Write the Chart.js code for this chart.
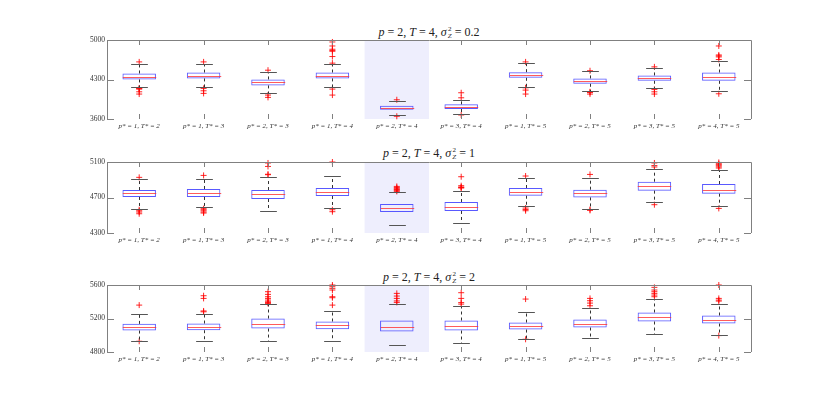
<!DOCTYPE html>
<html>
<head>
<meta charset="utf-8">
<script src="https://cdn.jsdelivr.net/npm/chart.js@4.4.1/dist/chart.umd.min.js"></script>
<style>
  body { margin: 0; background: #fff; width: 830px; height: 395px; position: relative; overflow: hidden; }
  canvas { position: absolute; left: 0; }
  .title { position: absolute; left: 279px; width: 300px; text-align: center; font-family: "Liberation Serif", serif; font-size: 12px; line-height: 14px; color: #222; }
  .ss { display: inline-flex; flex-direction: column; vertical-align: middle; font-size: 7px; line-height: 7px; margin-left: 1px; }
</style>
</head>
<body>
<div class="title" style="top:25px"><i>p</i> = 2, <i>T</i> = 4, <i>σ</i><span class="ss"><span>2</span><i>Z</i></span> = 0.2</div>
<canvas id="c1" width="830" height="135" style="top:0px"></canvas>
<div class="title" style="top:146px"><i>p</i> = 2, <i>T</i> = 4, <i>σ</i><span class="ss"><span>2</span><i>Z</i></span> = 1</div>
<canvas id="c2" width="830" height="109" style="top:140px"></canvas>
<div class="title" style="top:270px"><i>p</i> = 2, <i>T</i> = 4, <i>σ</i><span class="ss"><span>2</span><i>Z</i></span> = 2</div>
<canvas id="c3" width="830" height="108" style="top:260px"></canvas>
<script>
// categories (shared by all three panels)
const labels = ['p* = 1, T* = 2', 'p* = 1, T* = 3', 'p* = 2, T* = 3', 'p* = 1, T* = 4', 'p* = 2, T* = 4',
                'p* = 3, T* = 4', 'p* = 1, T* = 5', 'p* = 2, T* = 5', 'p* = 3, T* = 5', 'p* = 4, T* = 5'];
const shadedIndex = 4;

// panel 1: sigma_Z^2 = 0.2
const q1A  = [4301, 4319, 4195, 4319, 3765, 3777, 4330, 4224, 4277, 4277];
const q3A  = [4407, 4424, 4301, 4424, 3835, 3860, 4430, 4319, 4372, 4424];
const medA = [4347, 4365, 4248, 4365, 3800, 3818, 4377, 4266, 4319, 4342];
const loA  = [4160, 4160, 4065, 4160, 3671, 3694, 4171, 4094, 4142, 4094];
const hiA  = [4571, 4576, 4435, 4576, 3923, 3941, 4601, 4448, 4500, 4629];
const outA = [
  [4612, 4147, 4138, 4130, 4082, 4042],
  [4612, 4142, 4100, 4054],
  [4465, 4024, 3983],
  [4590, 4707, 4800, 4815, 4836, 4894, 4965, 4130, 4024],
  [3941, 3648],
  [3976, 4065, 3671],
  [4612, 4153, 4112, 4042],
  [4455, 4082, 4070, 4042],
  [4524, 4124, 4082, 4042],
  [4654, 4700, 4718, 4735, 4894, 4047]
];

// panel 2: sigma_Z^2 = 1
const q1B  = [4706, 4706, 4683, 4717, 4536, 4548, 4720, 4701, 4777, 4743];
const q3B  = [4784, 4796, 4784, 4807, 4627, 4649, 4807, 4788, 4878, 4852];
const medB = [4751, 4754, 4735, 4762, 4577, 4596, 4762, 4751, 4830, 4788];
const loB  = [4574, 4588, 4543, 4581, 4393, 4413, 4600, 4574, 4649, 4600];
const hiB  = [4908, 4908, 4927, 4938, 4762, 4777, 4923, 4915, 5017, 5005];
const outB = [
  [4927, 4562, 4550, 4536, 4517],
  [4949, 4574, 4562, 4550, 4536, 4525],
  [4957, 4962, 5050, 5089],
  [5100, 4562, 4540],
  [4769, 4780, 4790, 4800, 4812, 4825],
  [4807, 4812, 4818, 4833, 4934],
  [4942, 4581, 4565, 4551],
  [4960, 4555, 4565],
  [5044, 5060, 5089, 4619],
  [5032, 5045, 5058, 5070, 5081, 5095, 4577]
];

// panel 3: sigma_Z^2 = 2
const q1C  = [5056, 5060, 5080, 5072, 5044, 5056, 5068, 5092, 5164, 5140];
const q3C  = [5136, 5140, 5200, 5164, 5176, 5176, 5152, 5188, 5272, 5236];
const medC = [5096, 5104, 5140, 5120, 5104, 5116, 5112, 5140, 5212, 5184];
const loC  = [4932, 4936, 4936, 4936, 4888, 4912, 4952, 4964, 5020, 5008];
const hiC  = [5248, 5256, 5376, 5288, 5368, 5348, 5272, 5328, 5436, 5368];
const outC = [
  [5360, 4928],
  [5280, 5290, 5440, 5472],
  [5380, 5390, 5400, 5420, 5440, 5460, 5488, 5520],
  [5360, 5448, 5460, 5540, 5560, 5580, 5600],
  [5392, 5410, 5440, 5468, 5500],
  [5372, 5390, 5440, 5508],
  [5432, 4952],
  [5352, 5384, 5412, 5440],
  [5460, 5480, 5500, 5520, 5540, 5572],
  [5408, 5420, 5440, 5600, 4996]
];

const axisColor = '#808080';
const boxColor = 'rgba(60,60,255,0.85)';
const medColor = 'rgba(255,50,50,0.8)';

// draws shade, frame, ticks, whiskers, caps and medians with the chart's scales
const boxPlugin = {
  id: 'boxExtras',
  beforeDatasetsDraw(chart) {
    const { ctx, chartArea: a, scales: { x } } = chart;
    const w = x.getPixelForValue(1) - x.getPixelForValue(0);
    const cx = x.getPixelForValue(shadedIndex);
    ctx.save();
    ctx.fillStyle = '#eeeefd';
    ctx.fillRect(cx - w / 2, a.top, w, a.bottom - a.top);
    ctx.restore();
  },
  afterDatasetsDraw(chart) {
    const { ctx, chartArea: a, scales: { x, y } } = chart;
    const st = chart.options.plugins.boxExtras;
    const px = v => Math.round(v) + 0.5;
    ctx.save();
    ctx.lineWidth = 1;
    // frame: left, top, right
    ctx.strokeStyle = axisColor;
    ctx.beginPath();
    ctx.moveTo(px(a.left), a.bottom); ctx.lineTo(px(a.left), px(a.top));
    ctx.lineTo(px(a.right), px(a.top)); ctx.lineTo(px(a.right), a.bottom);
    ctx.stroke();
    // y ticks, inward on both sides
    y.ticks.forEach(t => {
      const yy = px(y.getPixelForValue(t.value));
      ctx.beginPath();
      ctx.moveTo(a.left, yy); ctx.lineTo(a.left + 7, yy);
      ctx.moveTo(a.right, yy); ctx.lineTo(a.right - 7, yy);
      ctx.stroke();
    });
    // x ticks top and bottom
    labels.forEach((l, i) => {
      if (i === shadedIndex) return;
      const xx = px(x.getPixelForValue(i));
      ctx.beginPath();
      ctx.moveTo(xx, a.top); ctx.lineTo(xx, a.top + 5);
      ctx.moveTo(xx, a.bottom); ctx.lineTo(xx, a.bottom - 5);
      ctx.stroke();
    });
    const w = x.getPixelForValue(1) - x.getPixelForValue(0);
    const half = w * 0.52 / 2;
    labels.forEach((l, i) => {
      const xx = px(x.getPixelForValue(i));
      const yq1 = y.getPixelForValue(st.q1[i]);
      const yq3 = y.getPixelForValue(st.q3[i]);
      const ylo = px(y.getPixelForValue(st.lo[i]));
      const yhi = px(y.getPixelForValue(st.hi[i]));
      // dashed whiskers
      if (i !== shadedIndex) {
        ctx.strokeStyle = '#333';
        ctx.setLineDash([3, 3]);
        ctx.beginPath();
        ctx.moveTo(xx, yq3); ctx.lineTo(xx, yhi);
        ctx.moveTo(xx, yq1); ctx.lineTo(xx, ylo);
        ctx.stroke();
        ctx.setLineDash([]);
      }
      // caps
      ctx.strokeStyle = '#555';
      ctx.beginPath();
      ctx.moveTo(xx - half / 2, yhi); ctx.lineTo(xx + half / 2, yhi);
      ctx.moveTo(xx - half / 2, ylo); ctx.lineTo(xx + half / 2, ylo);
      ctx.stroke();
      // median
      const ym = px(y.getPixelForValue(st.med[i]));
      ctx.strokeStyle = medColor;
      ctx.beginPath();
      ctx.moveTo(xx - half, ym); ctx.lineTo(xx + half, ym);
      ctx.stroke();
    });
    ctx.restore();
  }
};

function makePanel(id, q1, q3, med, lo, hi, out, yMin, yMax, step, padTop) {
  const pts = [];
  out.forEach((vals, i) => vals.forEach(v => pts.push({ x: labels[i], y: v })));
  new Chart(document.getElementById(id), {
    type: 'bar',
    data: {
      labels: labels,
      datasets: [
        {
          data: q1.map((v, i) => [v, q3[i]]),
          backgroundColor: 'rgba(0,0,0,0)',
          borderColor: boxColor,
          borderWidth: 1,
          borderSkipped: false,
          barPercentage: 0.52,
          categoryPercentage: 1,
          order: 2
        },
        {
          type: 'line',
          data: pts,
          showLine: false,
          pointStyle: 'cross',
          pointRadius: 3,
          pointBorderWidth: 1,
          pointBorderColor: 'rgba(255,0,0,0.85)',
          clip: false,
          order: 1
        }
      ]
    },
    options: {
      responsive: false,
      animation: false,
      devicePixelRatio: 1,
      layout: { padding: { left: 0, right: 79, top: padTop, bottom: 0 } },
      plugins: {
        legend: { display: false },
        tooltip: { enabled: false },
        boxExtras: { q1, q3, med, lo, hi }
      },
      scales: {
        x: {
          offset: true,
          grid: { display: false, drawTicks: false },
          border: { display: false },
          ticks: {
            autoSkip: false, maxRotation: 0, padding: 3, color: '#333',
            font: { family: '"Liberation Serif", serif', size: 7, style: 'italic' }
          },
          afterFit: s => { s.height = 16; }
        },
        y: {
          min: yMin, max: yMax,
          grid: { display: false, drawTicks: false },
          border: { display: false },
          ticks: {
            stepSize: step, padding: 2, color: '#333',
            font: { family: '"Liberation Serif", serif', size: 7.5 },
            callback: v => String(v)
          },
          afterFit: s => { s.width = 107; }
        }
      }
    },
    plugins: [boxPlugin]
  });
}

makePanel('c1', q1A, q3A, medA, loA, hiA, outA, 3600, 5000, 700, 40);
makePanel('c2', q1B, q3B, medB, loB, hiB, outB, 4300, 5100, 400, 22);
makePanel('c3', q1C, q3C, medC, loC, hiC, outC, 4800, 5600, 400, 25);
</script>
</body>
</html>
